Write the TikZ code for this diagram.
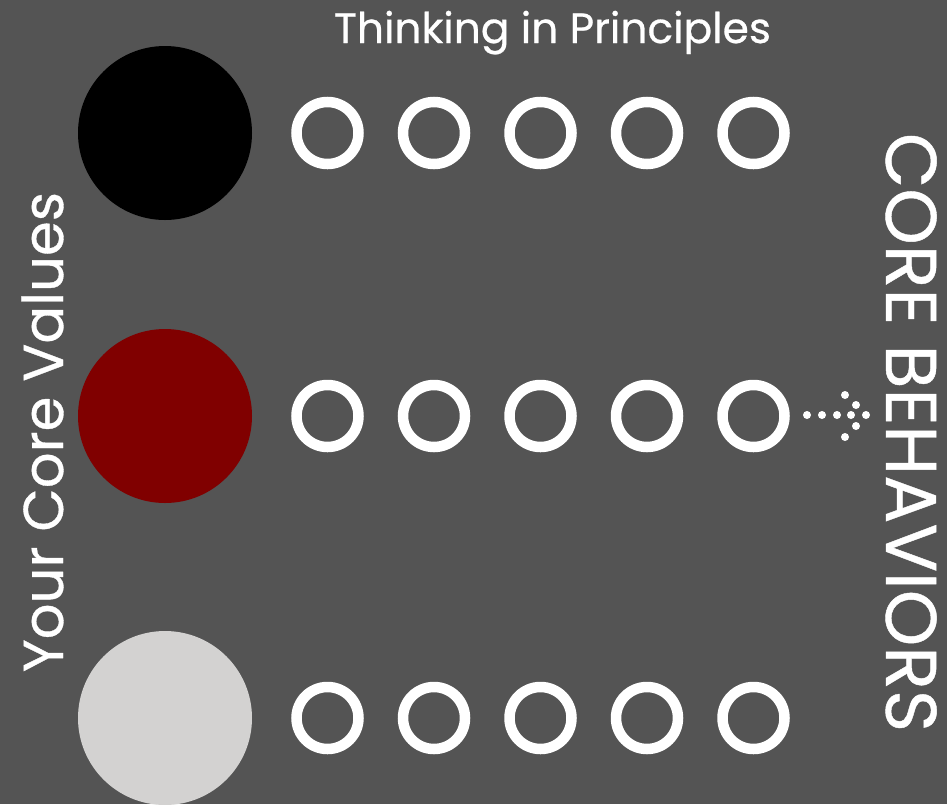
\documentclass[tikz,border=0pt]{standalone}
\usepackage{fontspec}
\setmainfont{Poppins}[FakeBold=0.6]
\usepackage{graphicx}
\definecolor{bg}{HTML}{545454}
\definecolor{darkred}{HTML}{800000}
\definecolor{lightgray}{HTML}{D3D2D1}
\begin{document}
\begin{tikzpicture}[x=1pt,y=1pt,
  bigdot/.style={circle,minimum size=174pt,inner sep=0pt},
  ringnode/.style={circle,draw=white,line width=10.5pt,minimum size=62pt,inner sep=0pt},
  arrowdot/.style={circle,fill=white,minimum size=8pt,inner sep=0pt},
  label/.style={text=white,inner sep=0pt}]
\fill[bg] (0,0) rectangle (947,-804);
\useasboundingbox (0,0) rectangle (947,-804);
\begin{scope}
\clip (0,0) rectangle (947,-804);
\node[bigdot,fill=black] (v1) at (165,-133) {};
\node[bigdot,fill=darkred] (v2) at (165,-416) {};
\node[bigdot,fill=lightgray] (v3) at (165,-718) {};
\end{scope}
\foreach \r/\y in {1/133,2/416,3/718}{
  \foreach \c/\x in {1/327.5,2/434,3/540.5,4/647,5/753.5}{
    \node[ringnode] (p\r\c) at (\x,-\y) {};
  }
}
\foreach \i/\x/\y in {1/807/415,2/822/415,3/837/415,4/851/415,5/866/415,6/845/395,7/856/405,8/856/426,9/845/437}{
  \node[arrowdot] (a\i) at (\x,-\y) {};
}
\node[label,anchor=base] (title) at (552.5,-43) {\resizebox{437pt}{!}{Thinking in Principles}};
\node[label,anchor=base,rotate=90] (values) at (63,-432) {\resizebox{480pt}{!}{Your Core Values}};
\node[label,anchor=base,rotate=-90] (beh) at (886,-432.5) {\resizebox{599pt}{!}{CORE BEHAVIORS}};
\end{tikzpicture}
\end{document}
